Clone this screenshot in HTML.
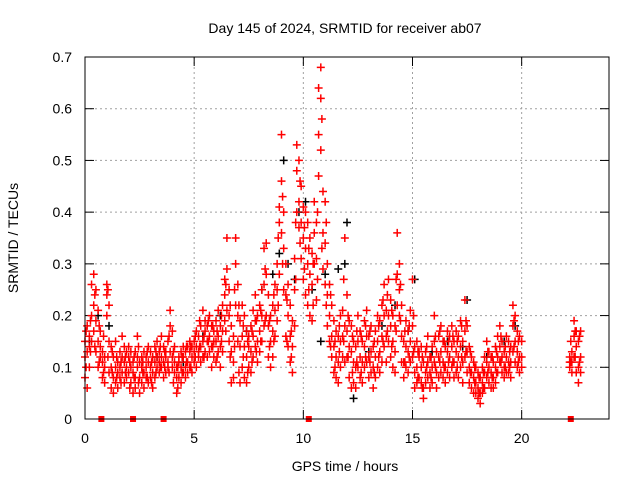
<!DOCTYPE html>
<html><head><meta charset="utf-8"><style>
body{margin:0;background:#fff;}
svg{display:block;font-family:"Liberation Sans",sans-serif;}
</style></head><body>
<svg id="chart" width="640" height="480" viewBox="0 0 640 480" xmlns="http://www.w3.org/2000/svg">
<rect x="0" y="0" width="640" height="480" fill="#fff"/>
<g id="grid"></g>
<g id="ticks"></g>
<g id="marks"></g>
<rect x="85" y="57" width="524" height="362" fill="none" stroke="#000" stroke-width="1"/>
<text x="345" y="33" font-size="14" text-anchor="middle">Day 145 of 2024, SRMTID for receiver ab07</text>
<text x="345" y="471" font-size="14" text-anchor="middle">GPS time / hours</text>
<text transform="translate(18,238) rotate(-90)" font-size="14" text-anchor="middle">SRMTID / TECUs</text>
</svg>
<script>
const xTicks=[0,5,10,15,20];
const yTicks=[0,0.1,0.2,0.3,0.4,0.5,0.6,0.7];
const yTickLabels=["0","0.1","0.2","0.3","0.4","0.5","0.6","0.7"];
const redT=[0.0,0.1,0.2,0.3,0.4,0.5,0.6,0.7,0.8,0.9,1.0,1.1,1.2,1.3,1.4,1.5,1.6,1.7,1.8,1.9,2.0,2.1,2.2,2.3,2.4,2.5,2.6,2.7,2.8,2.9,3.0,3.1,3.2,3.3,3.4,3.5,3.6,3.7,3.8,3.9,4.0,4.1,4.2,4.3,4.4,4.5,4.6,4.7,4.8,4.9,5.0,5.1,5.2,5.3,5.4,5.5,5.6,5.7,5.8,5.9,6.0,6.1,6.2,6.3,6.4,6.5,6.6,6.7,6.8,6.9,7.0,7.1,7.2,7.3,7.4,7.5,7.6,7.7,7.8,7.9,8.0,8.1,8.2,8.3,8.4,8.5,8.6,8.7,8.8,8.9,9.0,9.1,9.2,9.3,9.4,9.5,9.6,9.7,9.8,9.9,10.0,10.1,10.2,10.3,10.4,10.5,10.6,10.7,10.8,10.9,11.0,11.1,11.2,11.3,11.4,11.5,11.6,11.7,11.8,11.9,12.0,12.1,12.2,12.3,12.4,12.5,12.6,12.7,12.8,12.9,13.0,13.1,13.2,13.3,13.4,13.5,13.6,13.7,13.8,13.9,14.0,14.1,14.2,14.3,14.4,14.5,14.6,14.7,14.8,14.9,15.0,15.1,15.2,15.3,15.4,15.5,15.6,15.7,15.8,15.9,16.0,16.1,16.2,16.3,16.4,16.5,16.6,16.7,16.8,16.9,17.0,17.1,17.2,17.3,17.4,17.5,17.6,17.7,17.8,17.9,18.0,18.1,18.2,18.3,18.4,18.5,18.6,18.7,18.8,18.9,19.0,19.1,19.2,19.3,19.4,19.5,19.6,19.7,19.8,19.9,20.0,22.2,22.3,22.4,22.5,22.6,22.7];
const redV=[[.15,.08,.12],[.18,.06,.13],[.14,.10,.16],[.20,.26,.15],[.28,.22,.17],[.25,.19,.13],[.21,.15,.10],[.17,.12,.14],[.11,.08,.13],[.07,.10,.12],
[.26,.24,.20],[.22,.15,.09],[.14,.10,.06],[.12,.08,.05],[.15,.10,.07],[.11,.06,.09],[.13,.08,.10],[.16,.12,.09],[.14,.11,.07],[.13,.10,.08],
[.12,.09,.14],[.10,.07,.13],[.09,.05,.11],[.13,.08,.06],[.16,.12,.10],[.08,.05,.11],[.10,.07,.12],[.13,.09,.06],[.12,.08,.10],[.14,.11,.07],
[.10,.08,.13],[.09,.12,.06],[.11,.14,.08],[.15,.10,.12],[.13,.09,.11],[.12,.16,.10],[.14,.11,.08],[.12,.09,.13],[.15,.11,.10],[.21,.18,.13],
[.17,.12,.10],[.14,.09,.11],[.08,.05,.10],[.11,.08,.12],[.13,.10,.07],[.12,.09,.14],[.10,.08,.13],[.11,.14,.09],[.13,.10,.15],[.12,.09,.14],
[.15,.11,.13],[.14,.10,.17],[.16,.12,.13],[.18,.14,.11],[.21,.15,.12],[.17,.13,.19],[.15,.12,.18],[.16,.20,.13],[.18,.14,.10],[.17,.12,.15],
[.19,.15,.11],[.16,.13,.21],[.18,.14,.10],[.22,.17,.13],[.27,.24,.19],[.35,.29,.21],[.25,.20,.15],[.18,.13,.07],[.16,.11,.08],[.35,.30,.22],
[.26,.20,.15],[.19,.14,.07],[.22,.16,.10],[.20,.14,.08],[.17,.12,.07],[.14,.10,.16],[.18,.13,.09],[.21,.16,.12],[.24,.19,.14],[.20,.15,.11],
[.22,.17,.13],[.25,.20,.15],[.33,.26,.18],[.34,.28,.20],[.24,.18,.12],[.20,.15,.10],[.22,.17,.12],[.26,.21,.16],[.30,.25,.19],[.41,.38,.28],
[.55,.46,.36],[.40,.33,.25],[.30,.24,.16],[.26,.20,.14],[.22,.16,.11],[.19,.14,.09],[.25,.31,.18],[.53,.48,.40],[.50,.42,.37],[.45,.38,.31],
[.41,.35,.27],[.40,.33,.24],[.38,.30,.22],[.35,.28,.20],[.32,.26,.19],[.42,.36,.30],[.38,.31,.23],[.64,.55,.47],[.68,.62,.52],[.44,.36,.29],
[.42,.34,.26],[.30,.24,.18],[.26,.20,.15],[.22,.16,.12],[.19,.14,.09],[.17,.12,.08],[.16,.11,.07],[.20,.15,.10],[.21,.16,.12],[.35,.18,.11],
[.24,.17,.12],[.19,.14,.08],[.18,.13,.06],[.15,.11,.07],[.14,.10,.06],[.20,.15,.10],[.17,.12,.08],[.15,.11,.07],[.19,.14,.10],[.21,.16,.11],
[.16,.12,.08],[.18,.13,.09],[.14,.10,.06],[.17,.12,.08],[.20,.15,.10],[.19,.13,.09],[.22,.16,.11],[.26,.20,.14],[.21,.16,.11],[.27,.20,.15],
[.23,.18,.12],[.20,.15,.10],[.18,.13,.09],[.36,.28,.22],[.30,.25,.20],[.22,.16,.11],[.15,.11,.08],[.19,.14,.10],[.17,.13,.09],[.21,.15,.11],
[.27,.18,.12],[.14,.09,.06],[.15,.10,.07],[.12,.08,.13],[.14,.10,.07],[.11,.06,.04],[.13,.09,.07],[.16,.11,.08],[.12,.09,.06],[.14,.10,.07],
[.20,.15,.11],[.13,.09,.06],[.16,.12,.08],[.18,.13,.09],[.15,.11,.08],[.14,.10,.07],[.17,.13,.09],[.16,.12,.08],[.18,.14,.10],[.15,.11,.08],
[.17,.13,.09],[.16,.12,.08],[.19,.14,.10],[.15,.11,.07],[.23,.17,.12],[.18,.13,.09],[.14,.10,.07],[.12,.09,.06],[.11,.08,.05],[.10,.07,.05],
[.09,.06,.04],[.08,.05,.03],[.10,.07,.05],[.12,.09,.06],[.15,.11,.08],[.13,.10,.07],[.12,.09,.06],[.11,.08,.06],[.14,.10,.07],[.16,.12,.09],
[.18,.14,.11],[.15,.12,.09],[.13,.10,.08],[.16,.12,.09],[.15,.11,.09],[.14,.11,.08],[.22,.18,.13],[.20,.15,.11],[.17,.13,.10],[.16,.12,.09],
[.15,.12,.10],[.11,.10,.12],[.13,.11,.09],[.19,.16,.12],[.17,.14,.09],[.15,.10,.07],[.17,.12,.09]];
const redT2=[0.05,0.25,0.45,0.65,0.85,1.05,1.25,1.45,1.65,1.85,2.05,2.25,2.45,2.65,2.85,3.05,3.25,3.45,3.65,3.85,4.05,4.25,4.45,4.65,4.85,5.05,5.25,5.45,5.65,5.85,6.05,6.25,6.45,6.65,6.85,7.05,7.25,7.45,7.65,7.85,8.05,8.25,8.45,8.65,8.85,9.05,9.25,9.45,9.65,9.85,10.05,10.25,10.45,10.65,10.85,11.05,11.25,11.45,11.65,11.85,12.05,12.25,12.45,12.65,12.85,13.05,13.25,13.45,13.65,13.85,14.05,14.25,14.45,14.65,14.85,15.05,15.25,15.45,15.65,15.85,16.05,16.25,16.45,16.65,16.85,17.05,17.25,17.45,17.65,17.85,18.05,18.25,18.45,18.65,18.85,19.05,19.25,19.45,19.65,19.85,22.25,22.45,22.65];
const redV2=[[.10,.17],[.13,.19],[.24,.14],[.18,.11],[.09,.16],[.25,.12],[.09,.13],[.08,.12],[.11,.07],[.12,.09],[.11,.06],[.08,.12],[.14,.07],[.11,.09],[.13,.08],[.11,.07],[.13,.09],[.14,.10],[.10,.13],[.16,.09],
[.13,.07],[.10,.06],[.12,.09],[.11,.14],[.14,.10],[.12,.16],[.14,.19],[.16,.12],[.15,.19],[.14,.18],[.17,.12],[.20,.15],[.26,.17],[.22,.12],[.25,.14],[.22,.09],[.18,.12],[.15,.09],[.17,.11],[.19,.13],
[.21,.15],[.29,.19],[.19,.14],[.24,.15],[.35,.22],[.43,.30],[.23,.15],[.17,.12],[.27,.38],[.46,.34],[.37,.29],[.33,.25],[.30,.22],[.40,.27],[.58,.33],[.38,.22],[.24,.14],[.15,.10],[.18,.13],[.27,.15],
[.20,.12],[.16,.09],[.17,.11],[.16,.09],[.18,.12],[.17,.11],[.15,.09],[.18,.12],[.23,.15],[.24,.17],[.21,.14],[.27,.17],[.26,.19],[.17,.11],[.18,.12],[.20,.13],[.13,.08],[.12,.06],[.14,.10],[.12,.08],
[.16,.10],[.17,.11],[.15,.10],[.15,.11],[.16,.11],[.15,.10],[.18,.12],[.19,.13],[.13,.09],[.10,.07],[.08,.05],[.09,.06],[.13,.09],[.12,.08],[.13,.09],[.16,.11],[.14,.10],[.13,.10],[.19,.14],[.15,.11],
[.15,.11],[.17,.12],[.16,.11]];
const blackT=[0.2,0.6,1.1,2.6,3.3,4.5,5.4,6.2,7.4,8.1,8.6,8.9,9.1,9.3,9.6,9.8,10.1,10.4,10.8,11.0,11.6,11.9,12.0,12.3,13.0,13.6,14.2,14.8,15.1,15.9,16.6,17.3,17.5,18.4,19.2,19.7];
const blackV=[.15,.20,.18,.10,.12,.11,.16,.20,.17,.25,.28,.32,.50,.30,.27,.40,.42,.25,.15,.28,.29,.30,.38,.04,.13,.18,.22,.17,.27,.13,.15,.14,.23,.12,.15,.18];
const zeroT=[0.75,2.2,3.6,10.25,22.25];
const X=t=>85+t*(524/24);
const Y=v=>419-v*(362/0.7);
const NS='http://www.w3.org/2000/svg';
function mk(tag,attrs,parent){const e=document.createElementNS(NS,tag);for(const k in attrs)e.setAttribute(k,attrs[k]);parent.appendChild(e);return e;}
const grid=document.getElementById('grid'),ticks=document.getElementById('ticks'),marks=document.getElementById('marks');
xTicks.forEach(t=>{const x=X(t);
 if(t>0){const g=mk('line',{x1:x,y1:57,x2:x,y2:419,stroke:'#a0a0a0','stroke-dasharray':'2,3'},grid);
 
 }
 mk('line',{x1:x,y1:419,x2:x,y2:410,stroke:'#000'},ticks);
 mk('line',{x1:x,y1:57,x2:x,y2:66,stroke:'#000'},ticks);
 const l=mk('text',{x:x,y:443,'font-size':14,'text-anchor':'middle'},ticks);l.textContent=t;
 
 
});
yTicks.forEach((v,i)=>{const y=Y(v);
 if(i>0&&i<yTicks.length-1){const g=mk('line',{x1:85,y1:y,x2:609,y2:y,stroke:'#a0a0a0','stroke-dasharray':'2,3'},grid);
 
 }
 mk('line',{x1:85,y1:y,x2:94,y2:y,stroke:'#000'},ticks);
 mk('line',{x1:609,y1:y,x2:600,y2:y,stroke:'#000'},ticks);
 const l=mk('text',{x:72,y:y+5,'font-size':14,'text-anchor':'end'},ticks);l.textContent=yTickLabels[i];
 
 
});
function cross(t,v,col,name){const x=X(t),y=Y(v);
 const p=mk('path',{d:`M${x-4},${y}h8M${x},${y-4}v8`,stroke:col,'stroke-width':1.5,fill:'none'},marks);
 
 }
blackT.forEach((t,i)=>cross(t,blackV[i],'#000','black-point'));
redT.forEach((t,i)=>redV[i].forEach(v=>cross(t,v,'#ff0000','red-point')));
redT2.forEach((t,i)=>redV2[i].forEach(v=>cross(t,v,'#ff0000','red-point')));
zeroT.forEach(t=>{const r=mk('rect',{x:X(t)-3,y:416,width:6,height:6,fill:'#ff0000'},marks);
 
 });
</script>
</body></html>
